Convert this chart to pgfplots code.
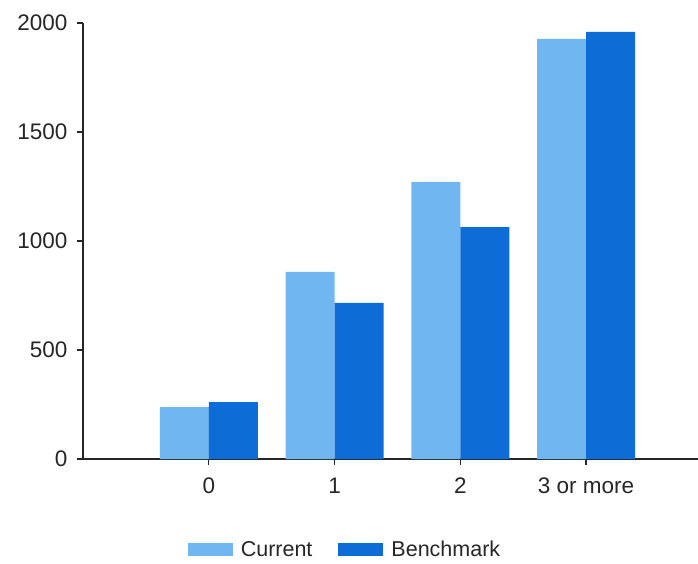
\documentclass[border=0pt]{standalone}
\usepackage{fontspec}
\setmainfont{Liberation Sans}
\usepackage{pgfplots}
\pgfplotsset{compat=1.18}
\definecolor{curr}{RGB}{112,182,240}
\definecolor{bench}{RGB}{14,108,214}
\begin{document}
\begin{tikzpicture}
\path[use as bounding box] (-83pt,-104pt) rectangle (615pt,459pt);
\begin{axis}[
  at={(0pt,0pt)}, anchor=south west,
  scale only axis, width=615pt, height=436pt,
  xmin=-1, xmax=3.89, ymin=0, ymax=2000,
  ybar=0pt, bar width=49pt,
  axis x line*=bottom, axis y line*=left,
  axis line style={line width=1.6pt, draw=black!85},
  tick style={line width=1.4pt, draw=black!85},
  tick align=outside, major tick length=6pt,
  xtick={0,1,2,3}, xticklabels={0,1,2,3 or more},
  ytick={0,500,1000,1500,2000},
  /pgf/number format/assume math mode=true,
  /pgf/number format/1000 sep={},
  ticklabel style={font=\fontsize{22.5}{25}\selectfont, text=black!85},
  xticklabel style={yshift=-9pt},
  yticklabel style={xshift=-6pt},
  legend style={at={(0.426,-0.208)}, anchor=center, draw=none, fill=none,
    font=\fontsize{21.5}{24}\selectfont, text=black!85, legend columns=2,
    /tikz/every odd column/.append style={column sep=6pt},
    /tikz/every even column/.append style={column sep=24pt}},
  legend image code/.code={\fill[#1] (0pt,-6.5pt) rectangle (45pt,6.5pt);},
]
\addplot[fill=curr, draw=none] coordinates {(0,238) (1,858) (2,1271) (3,1927)};
\addplot[fill=bench, draw=none] coordinates {(0,261) (1,716) (2,1064) (3,1959)};
\legend{Current,Benchmark}
\end{axis}
\end{tikzpicture}
\end{document}
